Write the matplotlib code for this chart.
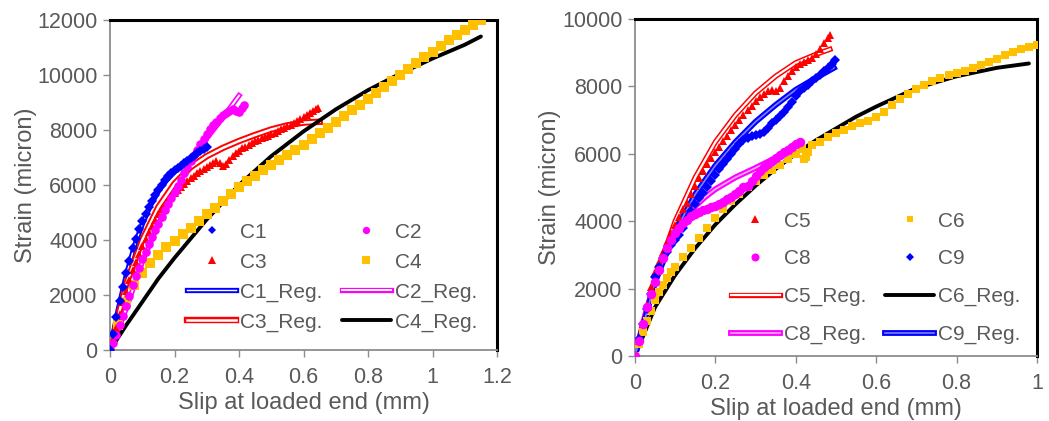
import matplotlib
matplotlib.use("Agg")
import matplotlib.pyplot as plt
import matplotlib.patheffects as pe

plt.rcParams['font.family'] = ['Liberation Sans', 'DejaVu Sans']

# ---------------- Left panel data ----------------
c1_x = [0, 0.01, 0.02, 0.03, 0.04, 0.05, 0.06, 0.07, 0.08, 0.09, 0.10, 0.11, 0.12, 0.13, 0.14, 0.15,
        0.16, 0.17, 0.18, 0.19, 0.20, 0.21, 0.22, 0.23, 0.24, 0.25, 0.26, 0.27, 0.28, 0.29, 0.30]
c1_y = [0, 600, 1200, 1800, 2300, 2800, 3250, 3700, 4050, 4400, 4700, 4950, 5200, 5420, 5630, 5820,
        6000, 6170, 6320, 6430, 6530, 6620, 6700, 6790, 6880, 6970, 7060, 7150, 7240, 7320, 7400]
c1r_x = [0, 0.025, 0.05, 0.075, 0.10, 0.125, 0.15, 0.175, 0.20, 0.225, 0.25, 0.275, 0.30]
c1r_y = [0, 1450, 2700, 3750, 4580, 5250, 5780, 6170, 6480, 6720, 6950, 7170, 7380]

c2_x = [0, 0.01, 0.02, 0.03, 0.04, 0.05, 0.06, 0.07, 0.08, 0.09, 0.10, 0.11, 0.12, 0.13, 0.14, 0.15,
        0.16, 0.17, 0.18, 0.19, 0.20, 0.21, 0.22, 0.23, 0.24, 0.25, 0.26, 0.27, 0.28, 0.29, 0.30,
        0.31, 0.32, 0.33, 0.34, 0.35, 0.36, 0.37, 0.38, 0.39, 0.40, 0.41, 0.415]
c2_y = [0, 250, 550, 900, 1250, 1600, 1950, 2350, 2700, 3000, 3300, 3580, 3850, 4100, 4350, 4600,
        4850, 5080, 5300, 5520, 5750, 5980, 6200, 6420, 6640, 6860, 7080, 7280, 7480, 7680, 7860,
        8020, 8170, 8300, 8420, 8530, 8620, 8700, 8750, 8700, 8650, 8800, 8900]
c2r_x = [0, 0.05, 0.10, 0.15, 0.20, 0.25, 0.30, 0.35, 0.40]
c2r_y = [0, 1500, 3200, 4600, 5800, 6800, 7700, 8450, 9250]

c3_x = [0, 0.01, 0.02, 0.03, 0.04, 0.05, 0.06, 0.07, 0.08, 0.09, 0.10, 0.11, 0.12, 0.13, 0.14, 0.15,
        0.16, 0.17, 0.18, 0.19, 0.20, 0.21, 0.22, 0.23, 0.24, 0.25, 0.26, 0.27, 0.28, 0.29, 0.30,
        0.31, 0.32, 0.33, 0.34, 0.35, 0.36, 0.37, 0.38, 0.39, 0.40, 0.41, 0.42, 0.43, 0.44, 0.45,
        0.46, 0.47, 0.48, 0.49, 0.50, 0.51, 0.52, 0.53, 0.54, 0.55, 0.56, 0.57, 0.58, 0.59, 0.60,
        0.61, 0.62, 0.63, 0.64, 0.645]
c3_y = [0, 400, 800, 1300, 1750, 2150, 2550, 2900, 3200, 3500, 3780, 4050, 4300, 4520, 4730, 4930,
        5120, 5280, 5430, 5570, 5700, 5820, 5940, 6050, 6150, 6250, 6340, 6420, 6500, 6580, 6660,
        6740, 6810, 6880, 6800, 6700, 6750, 6900, 7050, 7150, 7250, 7330, 7400, 7470, 7530, 7590,
        7650, 7700, 7750, 7800, 7850, 7900, 7960, 8020, 8080, 8140, 8200, 8260, 8330, 8400, 8470,
        8540, 8610, 8680, 8750, 8800]
c3r_x = [0, 0.05, 0.10, 0.15, 0.20, 0.25, 0.30, 0.35, 0.40, 0.45, 0.50, 0.55, 0.60, 0.65]
c3r_y = [0, 2400, 4000, 5200, 6050, 6650, 7050, 7350, 7600, 7820, 8020, 8170, 8270, 8300]

c4_x = [0, 0.025, 0.05, 0.075, 0.10, 0.125, 0.15, 0.175, 0.20, 0.225, 0.25, 0.275, 0.30, 0.325,
        0.35, 0.375, 0.40, 0.425, 0.45, 0.475, 0.50, 0.525, 0.55, 0.575, 0.60, 0.625, 0.65, 0.675,
        0.70, 0.725, 0.75, 0.775, 0.80, 0.825, 0.85, 0.875, 0.90, 0.925, 0.95, 0.975, 1.00, 1.025,
        1.05, 1.075, 1.10, 1.125, 1.15]
c4_y = [0, 900, 1750, 2350, 2800, 3150, 3450, 3750, 3980, 4220, 4450, 4690, 4930, 5170,
        5420, 5680, 5940, 6140, 6340, 6530, 6720, 6900, 7090, 7280, 7470, 7680, 7890, 8090,
        8300, 8500, 8720, 8920, 9110, 9330, 9560, 9790, 10000, 10210, 10420, 10640, 10850, 11060,
        11270, 11460, 11640, 11820, 12000]
c4r_x = [0, 0.05, 0.10, 0.15, 0.20, 0.30, 0.40, 0.50, 0.60, 0.70, 0.80, 0.90, 1.00, 1.10, 1.15]
c4r_y = [0, 900, 1750, 2600, 3350, 4750, 6000, 7050, 7950, 8750, 9450, 10050, 10600, 11100, 11400]

# ---------------- Right panel data ----------------
c5_x = [0, 0.01, 0.02, 0.03, 0.04, 0.05, 0.06, 0.07, 0.08, 0.09, 0.10, 0.11, 0.12, 0.13, 0.14, 0.15,
        0.16, 0.17, 0.18, 0.19, 0.20, 0.21, 0.22, 0.23, 0.24, 0.25, 0.26, 0.27, 0.28, 0.29, 0.30,
        0.31, 0.32, 0.33, 0.34, 0.35, 0.36, 0.37, 0.38, 0.39, 0.40, 0.41, 0.42, 0.43, 0.44, 0.45,
        0.46, 0.47, 0.48, 0.485]
c5_y = [0, 450, 950, 1500, 2050, 2500, 2800, 3100, 3380, 3650, 3900, 4130, 4350, 4550, 4820, 5050,
        5280, 5500, 5700, 5880, 6050, 6210, 6370, 6540, 6700, 6850, 7000, 7150, 7300, 7430, 7560,
        7680, 7780, 7870, 7900, 7850, 7950, 8150, 8300, 8450, 8580, 8660, 8720, 8780, 8850, 8950,
        9100, 9300, 9450, 9530]
c5r_x = [0, 0.05, 0.10, 0.15, 0.20, 0.25, 0.30, 0.35, 0.40, 0.45, 0.485]
c5r_y = [0, 2300, 4000, 5300, 6350, 7150, 7800, 8300, 8700, 8950, 9100]

c6_x = [0, 0.01, 0.02, 0.03, 0.04, 0.05, 0.06, 0.07, 0.08, 0.09, 0.10, 0.12, 0.14, 0.16, 0.18, 0.20,
        0.22, 0.24, 0.26, 0.28, 0.30, 0.32, 0.34, 0.36, 0.38, 0.40, 0.415, 0.42, 0.425, 0.43, 0.44,
        0.46, 0.48, 0.50, 0.52, 0.54, 0.56, 0.58, 0.60, 0.62, 0.64, 0.66, 0.68, 0.70, 0.72, 0.74,
        0.76, 0.78, 0.80, 0.82, 0.84, 0.86, 0.88, 0.90, 0.92, 0.94, 0.96, 0.98, 1.00]
c6_y = [0, 350, 700, 1050, 1350, 1650, 1900, 2120, 2320, 2500, 2650, 2950, 3200, 3500, 3800, 4080,
        4350, 4600, 4820, 5020, 5200, 5370, 5520, 5680, 5850, 6000, 6150, 5850, 5900, 6050, 6250,
        6350, 6500, 6620, 6720, 6820, 6900, 6980, 7080, 7250, 7450, 7620, 7780, 7920, 8050, 8150,
        8250, 8330, 8400, 8470, 8540, 8620, 8720, 8820, 8920, 9020, 9110, 9180, 9230]
c6r_x = [0, 0.05, 0.10, 0.15, 0.20, 0.25, 0.30, 0.35, 0.40, 0.45, 0.50, 0.55, 0.60, 0.70, 0.80, 0.90, 0.98]
c6r_y = [0, 1450, 2400, 3200, 3900, 4500, 5050, 5550, 6000, 6400, 6750, 7100, 7400, 7950, 8300, 8550, 8680]

c8_x = [0, 0.01, 0.02, 0.03, 0.04, 0.05, 0.06, 0.07, 0.08, 0.09, 0.10, 0.11, 0.12, 0.13, 0.14, 0.15,
        0.16, 0.17, 0.18, 0.19, 0.20, 0.21, 0.22, 0.23, 0.24, 0.25, 0.26, 0.27, 0.28, 0.29, 0.30,
        0.31, 0.32, 0.33, 0.34, 0.35, 0.36, 0.37, 0.38, 0.39, 0.40, 0.41]
c8_y = [0, 450, 950, 1450, 1850, 2200, 2550, 2900, 3200, 3450, 3650, 3800, 3950, 4050, 4150, 4220,
        4280, 4330, 4370, 4410, 4450, 4510, 4580, 4650, 4730, 4820, 4910, 5000, 5050, 5200, 5350,
        5480, 5600, 5700, 5800, 5880, 5960, 6040, 6120, 6200, 6280, 6350]
c8r_x = [0, 0.025, 0.05, 0.075, 0.10, 0.125, 0.15, 0.175, 0.20, 0.25, 0.30, 0.35, 0.40]
c8r_y = [0, 1200, 2200, 3000, 3600, 4100, 4450, 4720, 4950, 5300, 5580, 5880, 6300]

c9_x = [0, 0.01, 0.02, 0.03, 0.04, 0.05, 0.06, 0.07, 0.08, 0.09, 0.10, 0.11, 0.12, 0.13, 0.14, 0.15,
        0.16, 0.17, 0.18, 0.19, 0.20, 0.21, 0.22, 0.23, 0.24, 0.25, 0.26, 0.27, 0.28, 0.29, 0.30,
        0.31, 0.32, 0.33, 0.34, 0.35, 0.36, 0.37, 0.38, 0.39, 0.40, 0.41, 0.42, 0.43, 0.44, 0.45,
        0.46, 0.47, 0.48, 0.49, 0.4975]
c9_y = [0, 500, 950, 1400, 1850, 2350, 2650, 2900, 3100, 3300, 3450, 3600, 3800, 4050, 4300, 4500,
        4700, 4830, 5000, 5200, 5380, 5540, 5700, 5860, 6000, 6150, 6300, 6400, 6480, 6520, 6550,
        6600, 6650, 6780, 6900, 7000, 7120, 7250, 7400, 7550, 7700, 7850, 7950, 8050, 8150, 8250,
        8350, 8450, 8550, 8650, 8780]
c9r_x = [0, 0.05, 0.10, 0.15, 0.20, 0.25, 0.30, 0.35, 0.40, 0.45, 0.495]
c9r_y = [0, 2200, 3700, 4800, 5650, 6350, 6950, 7450, 7900, 8250, 8550]

left_xticks = [0, 0.2, 0.4, 0.6, 0.8, 1.0, 1.2]
left_xticklabels = ["0", "0.2", "0.4", "0.6", "0.8", "1", "1.2"]
left_yticks = [0, 2000, 4000, 6000, 8000, 10000, 12000]
right_xticks = [0, 0.2, 0.4, 0.6, 0.8, 1.0]
right_xticklabels = ["0", "0.2", "0.4", "0.6", "0.8", "1"]
right_yticks = [0, 2000, 4000, 6000, 8000, 10000]

BLUE = "#0000FF"
MAG = "#FF00FF"
RED = "#FF0000"
YEL = "#FFC000"
GRAY = "#595959"

fig = plt.figure(figsize=(10.49, 4.21), dpi=100)
axL = fig.add_axes([0.1049, 0.1686, 0.3689, 0.7839])
axR = fig.add_axes([0.6053, 0.1544, 0.3832, 0.8005])


def dbl(ax, x, y, color, label, outer=4.0, inner=1.2, innercolor="white"):
    ln, = ax.plot(x, y, color=innercolor, lw=inner, label=label, zorder=2,
                  path_effects=[pe.Stroke(linewidth=outer, foreground=color), pe.Normal()])
    return ln


def solid(ax, x, y, color, label):
    ln, = ax.plot(x, y, color=color, lw=2.8, label=label, zorder=2, solid_capstyle='round')
    return ln


def pts(ax, x, y, color, marker, ms, label):
    ln, = ax.plot(x, y, ls='none', marker=marker, ms=ms, mfc=color, mec=color, mew=0,
                  color=color, label=label, zorder=3)
    return ln


# left panel
h1r = dbl(axL, c1r_x, c1r_y, BLUE, "C1_Reg.", outer=3.8, inner=1.0)
h2r = dbl(axL, c2r_x, c2r_y, MAG, "C2_Reg.", outer=3.8, inner=1.4)
h3r = dbl(axL, c3r_x, c3r_y, RED, "C3_Reg.", outer=4.6, inner=1.8)
h4r = solid(axL, c4r_x, c4r_y, "black", "C4_Reg.")
h4 = pts(axL, c4_x, c4_y, YEL, 's', 6.5, "C4")
h3 = pts(axL, c3_x, c3_y, RED, '^', 6.0, "C3")
h2 = pts(axL, c2_x, c2_y, MAG, 'o', 6.2, "C2")
h1 = pts(axL, c1_x, c1_y, BLUE, 'D', 5.2, "C1")

# right panel
h6r = solid(axR, c6r_x, c6r_y, "black", "C6_Reg.")
h5r = dbl(axR, c5r_x, c5r_y, RED, "C5_Reg.", outer=3.8, inner=1.6)
h8r = dbl(axR, c8r_x, c8r_y, MAG, "C8_Reg.", outer=4.2, inner=1.2, innercolor="#FFB0FF")
h9r = dbl(axR, c9r_x, c9r_y, BLUE, "C9_Reg.", outer=4.2, inner=1.2, innercolor="#8080FF")
h6 = pts(axR, c6_x, c6_y, YEL, 's', 5.8, "C6")
h5 = pts(axR, c5_x, c5_y, RED, '^', 6.0, "C5")
h9 = pts(axR, c9_x, c9_y, BLUE, 'D', 5.2, "C9")
h8 = pts(axR, c8_x, c8_y, MAG, 'o', 6.8, "C8")


def style(ax, xlim, ylim, xticks, xticklabels, yticks, ylabelpad):
    ax.set_xlim(*xlim)
    ax.set_ylim(*ylim)
    ax.set_xticks(xticks)
    ax.set_xticklabels(xticklabels)
    ax.set_yticks(yticks)
    ax.set_yticklabels([str(v) for v in yticks])
    for s in ['top', 'right']:
        ax.spines[s].set_color('black')
        ax.spines[s].set_linewidth(2.2)
    for s in ['left', 'bottom']:
        ax.spines[s].set_color('#8C8C8C')
        ax.spines[s].set_linewidth(1.3)
    ax.tick_params(axis='both', direction='out', length=5, width=1.0, color='#8C8C8C',
                   labelsize=15.5, labelcolor=GRAY)
    ax.tick_params(axis='x', pad=7)
    ax.tick_params(axis='y', pad=4)
    ax.set_xlabel("Slip at loaded end (mm)", fontsize=17, color=GRAY, labelpad=3)
    ax.set_ylabel("Strain (micron)", fontsize=17, color=GRAY, labelpad=ylabelpad)


style(axL, (0, 1.2), (0, 12000), left_xticks, left_xticklabels, left_yticks, 0)
style(axR, (0, 1.0), (0, 10000), right_xticks, right_xticklabels, right_yticks, 1)

legL = axL.legend([h1, h3, h1r, h3r, h2, h4, h2r, h4r],
                  ["C1", "C3", "C1_Reg.", "C3_Reg.", "C2", "C4", "C2_Reg.", "C4_Reg."],
                  ncol=2, frameon=False, loc='lower right', bbox_to_anchor=(0.97, 0.03),
                  fontsize=15, handlelength=2.35, handletextpad=0.2, columnspacing=0.9,
                  labelspacing=0.52, numpoints=1, borderaxespad=0.0, markerscale=0.85)
for t in legL.get_texts():
    t.set_color(GRAY)

legR = axR.legend([h5, h8, h5r, h8r, h6, h9, h6r, h9r],
                  ["C5", "C8", "C5_Reg.", "C8_Reg.", "C6", "C9", "C6_Reg.", "C9_Reg."],
                  ncol=2, frameon=False, loc='lower right', bbox_to_anchor=(0.98, 0.01),
                  fontsize=15, handlelength=2.35, handletextpad=0.2, columnspacing=0.9,
                  labelspacing=0.9, numpoints=1, borderaxespad=0.0, markerscale=0.85)
for t in legR.get_texts():
    t.set_color(GRAY)

fig.savefig("out.png", dpi=100)
